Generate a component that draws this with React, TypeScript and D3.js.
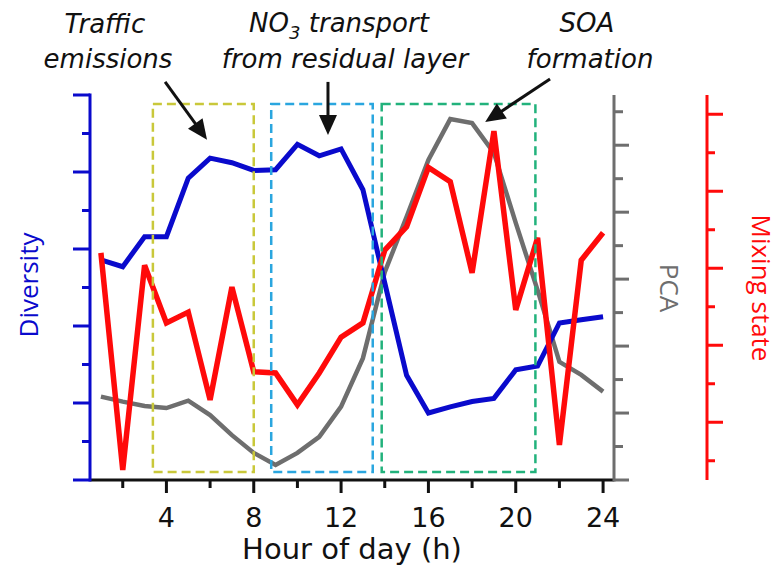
import React from 'react';
import * as d3 from 'd3';

// ---- data ----
const hours = [1, 2, 3, 4, 5, 6, 7, 8, 9, 10, 11, 12, 13, 14, 15, 16, 17, 18, 19, 20, 21, 22, 23, 24];
const diversity = [2.86, 2.77, 3.16, 3.16, 3.92, 4.18, 4.12, 4.02, 4.03, 4.36, 4.21, 4.3, 3.77, 2.56, 1.36, 0.87, 0.95, 1.02, 1.06, 1.43, 1.48, 2.04, 2.08, 2.12];
const pca = [2.49, 2.34, 2.21, 2.15, 2.37, 1.94, 1.34, 0.81, 0.45, 0.81, 1.29, 2.19, 3.64, 6.21, 7.86, 9.56, 10.78, 10.66, 9.77, 7.68, 5.67, 3.53, 3.14, 2.64];
const mixingState = [5.4, -0.24, 5.08, 3.58, 3.86, 1.58, 4.51, 2.31, 2.28, 1.45, 2.28, 3.21, 3.58, 5.47, 6.08, 7.62, 7.25, 4.88, 8.56, 3.92, 5.79, 0.41, 5.21, 5.92];

const xTicks = [2, 4, 6, 8, 10, 12, 14, 16, 18, 20, 22, 24];
const xTickLabels = ['', '4', '', '8', '', '12', '', '16', '', '20', '', '24'];
const diversityTicks = [0, 0.5, 1, 1.5, 2, 2.5, 3, 3.5, 4, 4.5, 5];
const pcaTicks = [0, 1, 2, 3, 4, 5, 6, 7, 8, 9, 10, 11];
const mixingTicks = [0, 1, 2, 3, 4, 5, 6, 7, 8, 9];

const boxStart = [3.38, 8.8, 13.86];
const boxEnd = [8.0, 13.45, 20.9];
const boxColors = ['#c9c83a', '#2aa6df', '#22b27c'];

// annotation arrows: [fromHour, fromValue, toHour, toValue] on the axis named
const arrowAxis = ['diversity', 'diversity', 'pca'];
const arrowFromHour = [3.94, 11.4, 21.57];
const arrowFromVal = [5.17, 5.17, 11.98];
const arrowToHour = [5.86, 11.4, 18.6];
const arrowToVal = [4.42, 4.48, 10.69];

const BLUE = '#0a0acc';
const RED = '#ff0a0a';
const GRAY = '#6e6e6e';

export default function App() {
  const left = 90, right = 614, top = 95, bottom = 480;
  const x = d3.scaleLinear().domain([0.5, 24.5]).range([left, right]);
  const yDiv = d3.scaleLinear().domain([0, 5]).range([bottom, top]);
  const yPca = d3.scaleLinear().domain([0, 11.5]).range([bottom, top]);
  const yMix = d3.scaleLinear().domain([-0.5, 9.5]).range([bottom, top]);
  const redAxisX = 707;

  const mk = (vals: number[], y: d3.ScaleLinear<number, number>) =>
    d3.line<number>().x((_, i) => x(hours[i])).y((d) => y(d))(vals) || '';

  const annoFont = "'DejaVu Sans', Verdana, sans-serif";
  const labelFont = "'Open Sans', sans-serif";

  const arrows = arrowAxis.map((ax, i) => {
    const ys = ax === 'pca' ? yPca : yDiv;
    const x1 = x(arrowFromHour[i]), y1 = ys(arrowFromVal[i]);
    const x2 = x(arrowToHour[i]), y2 = ys(arrowToVal[i]);
    const dx = x2 - x1, dy = y2 - y1;
    const len = Math.hypot(dx, dy);
    const ux = dx / len, uy = dy / len;
    const hl = 20, hw = 9;
    const bx = x2 - ux * hl, by = y2 - uy * hl;
    const pts = [
      [x2, y2],
      [bx - uy * hw, by + ux * hw],
      [bx + uy * hw, by - ux * hw],
    ];
    return (
      <g key={'a' + i}>
        <line x1={x1} y1={y1} x2={bx + ux * 2} y2={by + uy * 2} stroke="#111" strokeWidth={3} />
        <polygon points={pts.map((p) => p.join(',')).join(' ')} fill="#111" />
      </g>
    );
  });

  return (
    <svg width={779} height={566} style={{ position: 'absolute', left: 0, top: 0, background: '#fff' }}>
      <rect x={0} y={0} width={779} height={566} fill="#fff" />

      {/* lines */}
      <path d={mk(pca, yPca)} fill="none" stroke={GRAY} strokeWidth={4.5} />
      <path d={mk(diversity, yDiv)} fill="none" stroke={BLUE} strokeWidth={5} />
      <path d={mk(mixingState, yMix)} fill="none" stroke={RED} strokeWidth={5.5} />

      {/* dashed boxes */}
      {boxStart.map((s, i) => (
        <rect key={'b' + i} x={x(s)} y={104} width={x(boxEnd[i]) - x(s)} height={368}
          fill="none" stroke={boxColors[i]} strokeWidth={2.5} strokeDasharray="9 5" />
      ))}

      {/* x axis */}
      <line x1={left} x2={right} y1={bottom} y2={bottom} stroke="#111" strokeWidth={3} />
      {xTicks.map((t, i) => (
        <g key={'xt' + i}>
          <line x1={x(t)} x2={x(t)} y1={bottom} y2={bottom + (t % 4 === 0 ? 13 : 8)} stroke="#111" strokeWidth={3} />
          {xTickLabels[i] && (
            <text x={x(t)} y={527} textAnchor="middle" fontFamily={annoFont} fontSize={27} fill="#111">{xTickLabels[i]}</text>
          )}
        </g>
      ))}
      <text x={352} y={559} textAnchor="middle" fontFamily={annoFont} fontSize={29} fill="#111">Hour of day (h)</text>

      {/* left axis: diversity */}
      <line x1={left} x2={left} y1={top - 1.5} y2={bottom + 1.5} stroke={BLUE} strokeWidth={3} />
      {diversityTicks.map((t, i) => (
        <line key={'dt' + i} x1={left} x2={left - (i % 2 === 0 ? 17 : 8)} y1={yDiv(t)} y2={yDiv(t)} stroke={BLUE} strokeWidth={3} />
      ))}
      <text transform={`translate(38,285) rotate(-90)`} textAnchor="middle" fontFamily={labelFont} fontSize={26} fill={BLUE}>Diversity</text>

      {/* PCA axis */}
      <line x1={right} x2={right} y1={top} y2={bottom + 1.5} stroke={GRAY} strokeWidth={3} />
      {pcaTicks.map((t, i) => (
        <line key={'pt' + i} x1={right} x2={right + (t % 2 === 0 ? 15 : 9)} y1={yPca(t)} y2={yPca(t)} stroke={GRAY} strokeWidth={3} />
      ))}
      <text transform={`translate(660,288) rotate(90)`} textAnchor="middle" fontFamily={labelFont} fontSize={26} fill={GRAY}>PCA</text>

      {/* mixing state axis */}
      <line x1={redAxisX} x2={redAxisX} y1={top} y2={bottom} stroke={RED} strokeWidth={3} />
      {mixingTicks.map((t, i) => (
        <line key={'mt' + i} x1={redAxisX} x2={redAxisX + (t % 2 === 1 ? 16 : 8)} y1={yMix(t)} y2={yMix(t)} stroke={RED} strokeWidth={3} />
      ))}
      <text transform={`translate(752,288) rotate(90)`} textAnchor="middle" fontFamily={labelFont} fontSize={26} fill={RED}>Mixing state</text>

      {/* annotations */}
      <g fontFamily={annoFont} fontStyle="italic" fontSize={26} fill="#111" textAnchor="middle">
        <text x={105} y={33}>Traffic</text>
        <text x={108} y={68}>emissions</text>
        <text x={339} y={32}>NO<tspan fontSize={18} dy={7}>3</tspan><tspan dy={-7}> transport</tspan></text>
        <text x={345} y={68}>from residual layer</text>
        <text x={587} y={32}>SOA</text>
        <text x={590} y={68}>formation</text>
      </g>
      {arrows}
    </svg>
  );
}
